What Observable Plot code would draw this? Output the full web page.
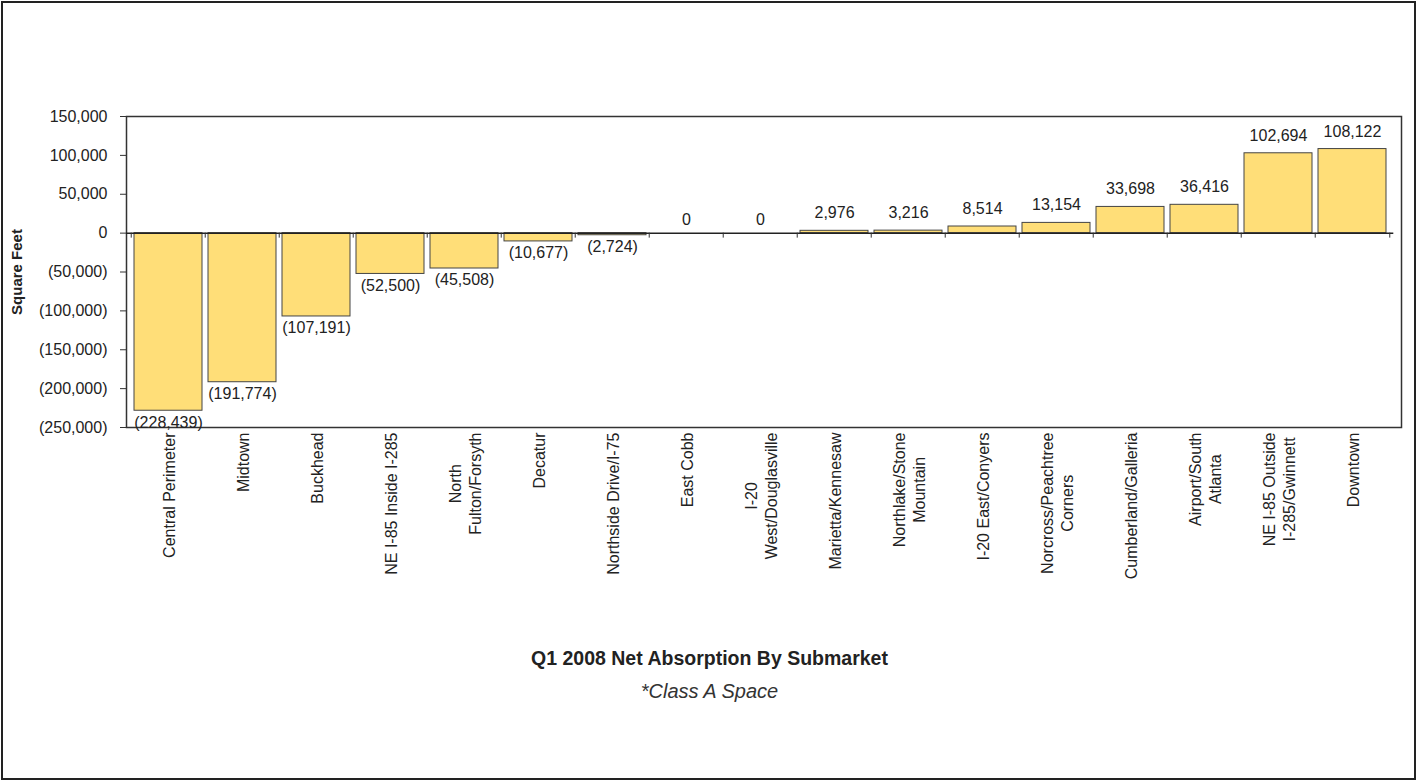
<!DOCTYPE html>
<html>
<head>
<meta charset="utf-8">
<script src="https://cdn.jsdelivr.net/npm/d3@7"></script>
<script src="https://cdn.jsdelivr.net/npm/@observablehq/plot@0.6"></script>
<style>
  html, body { margin: 0; padding: 0; background: #fff; }
  #chart { position: relative; width: 1419px; height: 782px; font-family: "Liberation Sans", Arial, sans-serif; color: #222; }
  #frame-border { position: absolute; left: 1px; top: 1px; width: 1415px; height: 779px; box-sizing: border-box; border: 2px solid #222; pointer-events: none; }
  .caption { position: absolute; left: 0; width: 1419px; text-align: center; line-height: 1; white-space: nowrap; }
  #title { top: 649px; font-size: 19.5px; font-weight: bold; }
  #subtitle { top: 681px; font-size: 20px; font-style: italic; color: #333; }
</style>
</head>
<body>
<div id="chart">
  <div id="plot"></div>
  <div id="title" class="caption">Q1 2008 Net Absorption By Submarket</div>
  <div id="subtitle" class="caption">*Class A Space</div>
  <div id="frame-border"></div>
</div>
<script>
// Submarkets (line breaks as they wrap under the axis)
const submarkets = [
  "Central Perimeter",
  "Midtown",
  "Buckhead",
  "NE I-85 Inside I-285",
  "North\nFulton/Forsyth",
  "Decatur",
  "Northside Drive/I-75",
  "East Cobb",
  "I-20\nWest/Douglasville",
  "Marietta/Kennesaw",
  "Northlake/Stone\nMountain",
  "I-20 East/Conyers",
  "Norcross/Peachtree\nCorners",
  "Cumberland/Galleria",
  "Airport/South\nAtlanta",
  "NE I-85 Outside\nI-285/Gwinnett",
  "Downtown"
];

// Net absorption, square feet
const netAbsorption = [
  -228439, -191774, -107191, -52500, -45508, -10677, -2724,
  0, 0, 2976, 3216, 8514, 13154, 33698, 36416, 102694, 108122
];

// Value-axis ticks
const yTicks = [-250000, -200000, -150000, -100000, -50000, 0, 50000, 100000, 150000];

const rows = submarkets.map((name, i) => ({name, value: netAbsorption[i]}));

const comma = d3.format(",");
const accounting = (d) => (d < 0 ? `(${comma(-d)})` : comma(d));

const fontFamily = "'Liberation Sans', Arial, sans-serif";
const fontSize = 16;
const ink = "#222";

// Layout of the plotting area
const chartWidth = 1419;
const chartHeight = 640;
const plotLeft = 126, plotRight = 1401, plotTop = 116, plotBottom = 427;
const xEnd = 1393.3;
const step = (xEnd - plotLeft) / submarkets.length;

// Measure wrapped category labels so each block hangs just below the axis
const ctx = document.createElement("canvas").getContext("2d");
ctx.font = `${fontSize}px ${fontFamily}`;
const labelWidth = (s) => d3.max(s.split("\n"), (line) => ctx.measureText(line).width);

const categoryLabels = submarkets.map((name) =>
  Plot.text([name], {
    x: (d) => d,
    text: (d) => d,
    frameAnchor: "bottom",
    rotate: -90,
    textAnchor: "middle",
    lineAnchor: "middle",
    lineHeight: 1.25,
    fill: ink,
    dy: 5 + labelWidth(name) / 2
  })
);

const chart = Plot.plot({
  width: chartWidth,
  height: chartHeight,
  marginLeft: plotLeft,
  marginRight: chartWidth - plotRight,
  marginTop: plotTop,
  marginBottom: chartHeight - plotBottom,
  style: {fontFamily, fontSize: `${fontSize}px`, color: ink, background: "#fff", overflow: "visible"},
  x: {
    type: "band",
    domain: submarkets,
    range: [plotLeft, xEnd],
    paddingInner: 0.08,
    paddingOuter: 0.04,
    axis: null
  },
  y: {domain: [-250000, 150000], axis: null},
  marks: [
    Plot.barY(rows, {x: "name", y: "value", fill: "#FFDE78", stroke: "#444", strokeWidth: 1}),
    Plot.frame({stroke: "#333", strokeWidth: 1.5}),
    Plot.ruleY([0], {stroke: "#222", strokeWidth: 1.5, insetRight: plotRight - xEnd}),
    // category separators hanging from the zero line
    Plot.ruleX(submarkets, {x: (d) => d, y1: 0, y2: 0, insetBottom: -5, dx: -step / 2, stroke: "#333"}),
    Plot.ruleX(submarkets.slice(-1), {x: (d) => d, y1: 0, y2: 0, insetBottom: -5, dx: step / 2, stroke: "#333"}),
    Plot.axisY({
      ticks: yTicks,
      tickFormat: accounting,
      tickSize: 6,
      tickPadding: 13,
      label: null,
      stroke: "#333",
      fill: ink
    }),
    Plot.text(["Square Feet"], {
      text: (d) => d,
      frameAnchor: "left",
      rotate: -90,
      textAnchor: "middle",
      lineAnchor: "middle",
      dx: 17 - plotLeft,
      fontWeight: "bold",
      fontSize: 15,
      fill: ink
    }),
    // value labels
    Plot.text(rows.filter((d) => d.value > 0), {
      x: "name", y: "value", text: (d) => accounting(d.value),
      lineAnchor: "bottom", dy: -12.5, fill: ink
    }),
    Plot.text(rows.filter((d) => d.value === 0), {
      x: "name", y: "value", text: (d) => accounting(d.value),
      lineAnchor: "bottom", dy: -8, fill: ink
    }),
    Plot.text(rows.filter((d) => d.value < 0), {
      x: "name", y: "value", text: (d) => accounting(d.value),
      lineAnchor: "top", dy: 5.5, fill: ink
    }),
    ...categoryLabels
  ]
});

document.getElementById("plot").append(chart);
</script>
</body>
</html>
